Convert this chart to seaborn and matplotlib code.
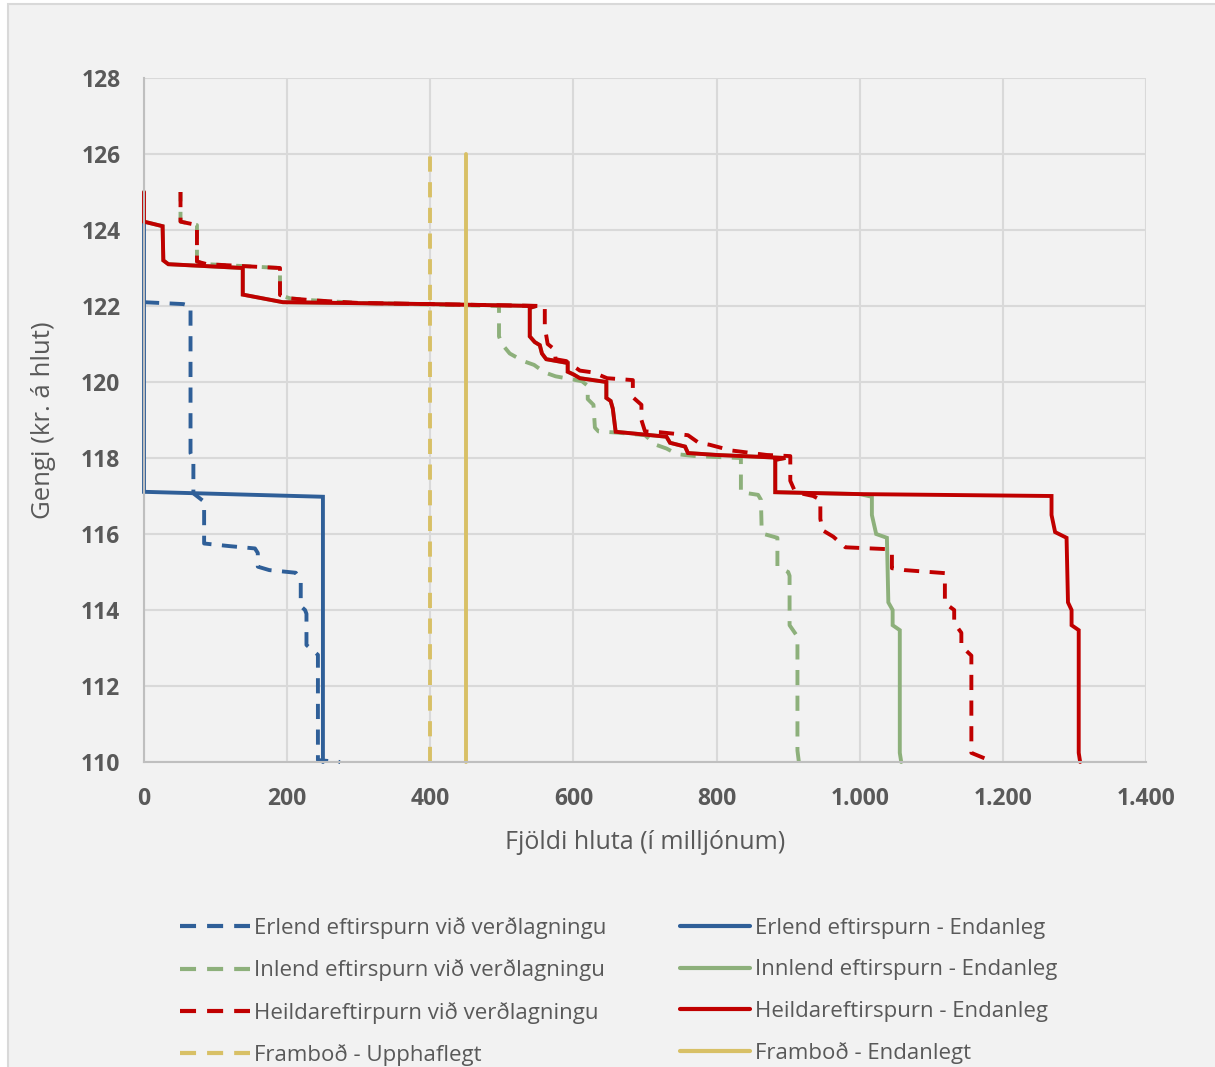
import seaborn as sns
import matplotlib
matplotlib.use("Agg")
from matplotlib import pyplot as plt
from matplotlib.lines import Line2D
from matplotlib.patches import Rectangle
from matplotlib.ticker import FuncFormatter, MultipleLocator

# Erlend eftirspurn við verðlagningu (blue dashed)
erl_init_x = [0, 55, 65, 65, 69, 69, 84, 84, 120, 155, 159, 159, 175, 212, 219, 219, 225, 227, 227, 243, 243, 274]
erl_init_y = [122.1, 122.05, 122.0, 118.13, 117.95, 117.07, 116.85, 115.75, 115.68, 115.62, 115.5, 115.14, 115.05, 114.98, 114.8, 114.1, 114.0, 113.9, 113.08, 112.82, 110.05, 110.0]

# Erlend eftirspurn - Endanleg (blue solid)
erl_fin_x = [0, 0, 250, 250]
erl_fin_y = [124.2, 117.11, 116.98, 110.0]

# Inlend eftirspurn við verðlagningu (green dashed)
inl_init_x = [51, 51, 74, 74, 88, 190, 190, 204, 236, 300, 496, 496, 500, 511, 530, 545, 560, 575, 595, 612, 620, 620, 628, 630, 635, 660, 700, 715, 730, 745, 770, 834, 834, 858, 862, 863, 866, 885, 885, 900, 902, 902, 913, 913, 915]
inl_init_y = [125.0, 124.22, 124.13, 123.17, 123.1, 123.0, 122.29, 122.2, 122.15, 122.08, 122.0, 121.2, 121.0, 120.75, 120.55, 120.45, 120.25, 120.15, 120.08, 120.02, 119.9, 119.55, 119.4, 118.8, 118.7, 118.67, 118.6, 118.35, 118.25, 118.1, 118.05, 118.0, 117.1, 117.03, 116.9, 116.1, 116.0, 115.9, 115.15, 115.0, 114.9, 113.6, 113.3, 110.3, 110.0]

# Innlend eftirspurn - Endanleg (green solid)
inn_fin_x = [0, 0, 26, 27, 34, 138, 138, 194, 400, 548, 539, 539, 546, 553, 556, 562, 592, 592, 600, 609, 646, 646, 652, 655, 659, 730, 735, 756, 760, 800, 896, 882, 882, 1000, 1017, 1017, 1023, 1038, 1040, 1046, 1046, 1056, 1056, 1058]
inn_fin_y = [125.0, 124.22, 124.1, 123.2, 123.1, 123.0, 122.3, 122.1, 122.05, 122.0, 121.95, 121.2, 121.05, 120.97, 120.75, 120.6, 120.5, 120.27, 120.2, 120.1, 120.0, 119.58, 119.5, 119.3, 118.69, 118.56, 118.4, 118.3, 118.13, 118.08, 118.0, 117.95, 117.1, 117.05, 116.98, 116.5, 116.0, 115.9, 114.2, 114.0, 113.6, 113.47, 110.24, 110.0]

# Heildareftirpurn við verðlagningu (red dashed)
heil_init_x = [51, 51, 74, 74, 88, 190, 190, 204, 236, 300, 560, 560, 564, 574, 575, 590, 609, 628, 647, 683, 683, 695, 695, 700, 720, 760, 775, 790, 820, 870, 903, 903, 910, 935, 945, 945, 948, 963, 980, 1040, 1045, 1045, 1063, 1119, 1119, 1132, 1132, 1142, 1142, 1156, 1156, 1187]
heil_init_y = [125.0, 124.22, 124.13, 123.17, 123.1, 123.0, 122.29, 122.2, 122.15, 122.08, 122.0, 121.45, 121.0, 120.85, 120.6, 120.55, 120.3, 120.25, 120.1, 120.05, 119.6, 119.4, 119.0, 118.7, 118.68, 118.6, 118.4, 118.35, 118.2, 118.08, 118.05, 117.4, 117.1, 117.0, 116.9, 116.4, 116.1, 115.93, 115.65, 115.6, 115.5, 115.1, 115.05, 114.97, 114.18, 114.0, 113.66, 113.4, 113.05, 112.8, 110.24, 110.0]

# Heildareftirspurn - Endanleg (red solid)
heil_fin_x = [0, 0, 26, 27, 34, 138, 138, 194, 400, 548, 539, 539, 546, 553, 556, 562, 592, 592, 600, 609, 646, 646, 652, 655, 659, 730, 735, 756, 760, 800, 896, 882, 882, 1000, 1268, 1268, 1273, 1289, 1291, 1296, 1296, 1306, 1306, 1308]
heil_fin_y = [125.0, 124.22, 124.1, 123.2, 123.1, 123.0, 122.3, 122.1, 122.05, 122.0, 121.95, 121.2, 121.05, 120.97, 120.75, 120.6, 120.5, 120.27, 120.2, 120.1, 120.0, 119.58, 119.5, 119.3, 118.69, 118.56, 118.4, 118.3, 118.13, 118.08, 118.0, 117.95, 117.1, 117.05, 117.0, 116.5, 116.05, 115.9, 114.2, 114.0, 113.6, 113.47, 110.24, 110.0]

# Framboð
fram_upp_x = [400, 400]
fram_upp_y = [110, 126]
fram_end_x = [450, 450]
fram_end_y = [110, 126]

labels = ["Erlend eftirspurn við verðlagningu", "Erlend eftirspurn - Endanleg",
          "Inlend eftirspurn við verðlagningu", "Innlend eftirspurn - Endanleg",
          "Heildareftirpurn við verðlagningu", "Heildareftirspurn - Endanleg",
          "Framboð - Upphaflegt", "Framboð - Endanlegt"]

BLUE = "#2F5F98"
GREEN = "#8DB07B"
RED = "#C00000"
YELLOW = "#D8C066"
GRAY = "#595959"

sns.set_theme(style="whitegrid")
plt.rcParams["font.family"] = ["Open Sans", "DejaVu Sans"]

fig = plt.figure(figsize=(12.15, 10.67), dpi=100)
fig.patch.set_facecolor("white")
fig.patches.append(Rectangle((8 / 1215, -0.01), 1.0, 1 - 3.5 / 1067 + 0.01, transform=fig.transFigure,
                             facecolor="#F2F2F2", edgecolor="#D9D9D9", lw=1.5, zorder=-10))
ax = fig.add_axes([144 / 1215, 1 - 762 / 1067, (1146 - 144) / 1215, (762 - 78) / 1067])
ax.set_facecolor("#F2F2F2")

series = [
    (inl_init_x, inl_init_y, GREEN, True, 1.5),
    (inn_fin_x, inn_fin_y, GREEN, False, 0),
    (erl_init_x, erl_init_y, BLUE, True, 0),
    (erl_fin_x, erl_fin_y, BLUE, False, 0),
    (heil_init_x, heil_init_y, RED, True, 0),
    (heil_fin_x, heil_fin_y, RED, False, 0),
    (fram_upp_x, fram_upp_y, YELLOW, True, 0),
    (fram_end_x, fram_end_y, YELLOW, False, 0),
]
for xs, ys, col, dashed, offset in series:
    style = (offset, (3.9, 2.7)) if dashed else "-"
    sns.lineplot(x=xs, y=ys, sort=False, estimator=None, ax=ax, color=col, lw=2.8,
                 linestyle=style, solid_joinstyle="miter", clip_on=False)

ax.set_xlim(0, 1400)
ax.set_ylim(110, 128)
ax.xaxis.set_major_locator(MultipleLocator(200))
ax.yaxis.set_major_locator(MultipleLocator(2))
ax.xaxis.set_major_formatter(FuncFormatter(lambda v, p: f"{int(v):,}".replace(",", ".")))
ax.grid(True, color="#D9D9D9", lw=1.5)
for s in ["top", "right"]:
    ax.spines[s].set_visible(False)
for s in ["left", "bottom"]:
    ax.spines[s].set_color("#BFBFBF")
    ax.spines[s].set_linewidth(1.5)
ax.tick_params(axis="both", length=0, labelsize=16.5, labelcolor=GRAY)
ax.tick_params(axis="x", pad=18)
ax.tick_params(axis="y", pad=17)
for t in ax.get_xticklabels() + ax.get_yticklabels():
    t.set_fontweight("bold")
ax.set_xlabel("Fjöldi hluta (í milljónum)", fontsize=18, color=GRAY, labelpad=14)
ax.set_ylabel("Gengi (kr. á hlut)", fontsize=18.5, color=GRAY, labelpad=18)

hd = (3.85, 2.65)
handles = [
    Line2D([], [], color=BLUE, lw=3, dashes=hd),
    Line2D([], [], color=GREEN, lw=3, dashes=hd),
    Line2D([], [], color=RED, lw=3, dashes=hd),
    Line2D([], [], color=YELLOW, lw=3, dashes=hd),
    Line2D([], [], color=BLUE, lw=3),
    Line2D([], [], color=GREEN, lw=3),
    Line2D([], [], color=RED, lw=3),
    Line2D([], [], color=YELLOW, lw=3),
]
leg_labels = [labels[0], labels[2], labels[4], labels[6], labels[1], labels[3], labels[5], labels[7]]
fig.legend(handles, leg_labels, ncol=2, loc="upper left", bbox_to_anchor=(160 / 1215, 1 - 897 / 1067),
           frameon=False, fontsize=16, labelcolor=GRAY, handlelength=3.15, handletextpad=0.2,
           columnspacing=3.3, labelspacing=0.92)

fig.savefig("out.png", dpi=100, facecolor=fig.get_facecolor())
